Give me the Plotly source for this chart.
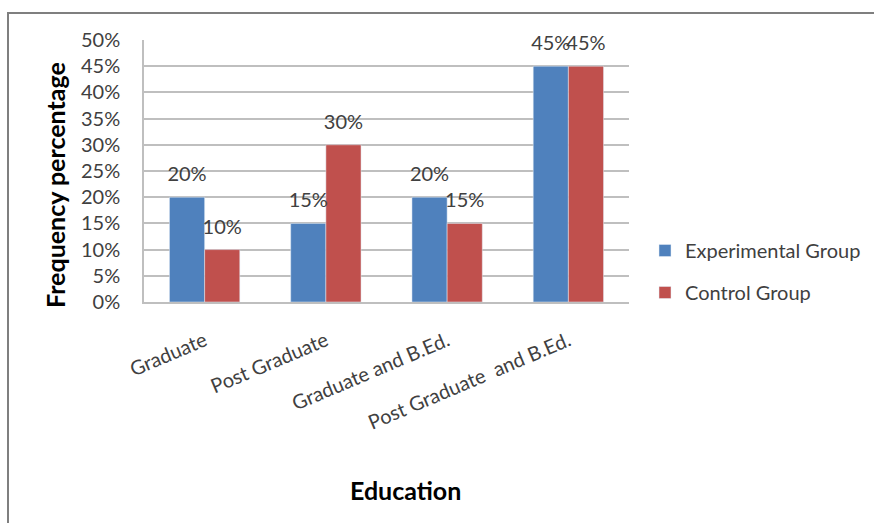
import plotly.graph_objects as go

categories = ["Graduate", "Post Graduate", "Graduate and B.Ed.", "Post Graduate  and B.Ed."]
experimental = [20, 15, 20, 45]
control = [10, 30, 15, 45]
tick_vals = [0, 5, 10, 15, 20, 25, 30, 35, 40, 45, 50]
tick_text = [f"{v}%" for v in tick_vals]

FONT = "Lato, 'Open Sans', sans-serif"
W, H = 874, 523
L, R, T, B = 144, 245, 40, 221
pw, ph = W - L - R, H - T - B

series = [
    ("Experimental Group", experimental, "#4F81BD", "exp"),
    ("Control Group", control, "#C0504D", "ctl"),
]

fig = go.Figure()
for name, vals, color, grp in series:
    fig.add_bar(x=categories, y=vals, name=name, marker_color=color,
                offsetgroup=grp, legendgroup=grp)
# value labels sit a little above each bar, aligned with its group slot
for name, vals, color, grp in series:
    fig.add_scatter(x=categories, y=vals, mode="markers+text",
                    offsetgroup=grp, legendgroup=grp, showlegend=False,
                    text=[f"{v}%" for v in vals], textposition="top center",
                    marker=dict(size=16, opacity=0),
                    textfont=dict(size=20, color="#404040", family=FONT),
                    cliponaxis=False, hoverinfo="skip")

def px_x(x):
    return (x - L) / pw

def px_y(y):
    return 1 - (y - T) / ph

fig.update_layout(
    width=W, height=H,
    margin=dict(l=L, r=R, t=T, b=B, autoexpand=False),
    paper_bgcolor="white", plot_bgcolor="white",
    barmode="group", bargap=0.42, bargroupgap=0,
    scattermode="group", scattergap=0.42,
    font=dict(family=FONT, color="#404040"),
    showlegend=True,
    legend=dict(xref="container", yref="container",
                x=645 / W, y=1 - 231 / H, xanchor="left", yanchor="top",
                font=dict(size=20, color="#404040", family=FONT),
                itemwidth=30, tracegroupgap=13),
    shapes=[dict(type="rect", xref="paper", yref="paper",
                 x0=px_x(8), x1=px_x(890), y0=px_y(540), y1=px_y(13),
                 line=dict(color="#7F7F7F", width=2), layer="below")],
    annotations=[
        dict(text="<b>Frequency percentage</b>", xref="paper", yref="paper",
             x=px_x(55), y=px_y(185), xanchor="center", yanchor="middle",
             textangle=-90, showarrow=False,
             font=dict(size=25, color="#000000", family=FONT)),
        dict(text="<b>Education</b>", xref="paper", yref="paper",
             x=px_x(405), y=px_y(490), xanchor="center", yanchor="middle",
             showarrow=False,
             font=dict(size=25, color="#000000", family=FONT)),
    ],
)
fig.update_traces(selector=dict(type="bar"), cliponaxis=False)
fig.update_yaxes(range=[0, 50], tickvals=tick_vals, ticktext=tick_text,
                 showgrid=True, gridcolor="#BFBFBF", gridwidth=1.5,
                 showline=True, linecolor="#BFBFBF", linewidth=1.5,
                 ticks="", ticklabelstandoff=18,
                 tickfont=dict(size=20, color="#404040", family=FONT),
                 zeroline=False)
fig.update_xaxes(showline=True, linecolor="#BFBFBF", linewidth=1.5,
                 mirror=False, ticks="", tickangle=-23,
                 ticklabelstandoff=18,
                 tickfont=dict(size=20, color="#404040", family=FONT))

fig.write_html("out.html")
